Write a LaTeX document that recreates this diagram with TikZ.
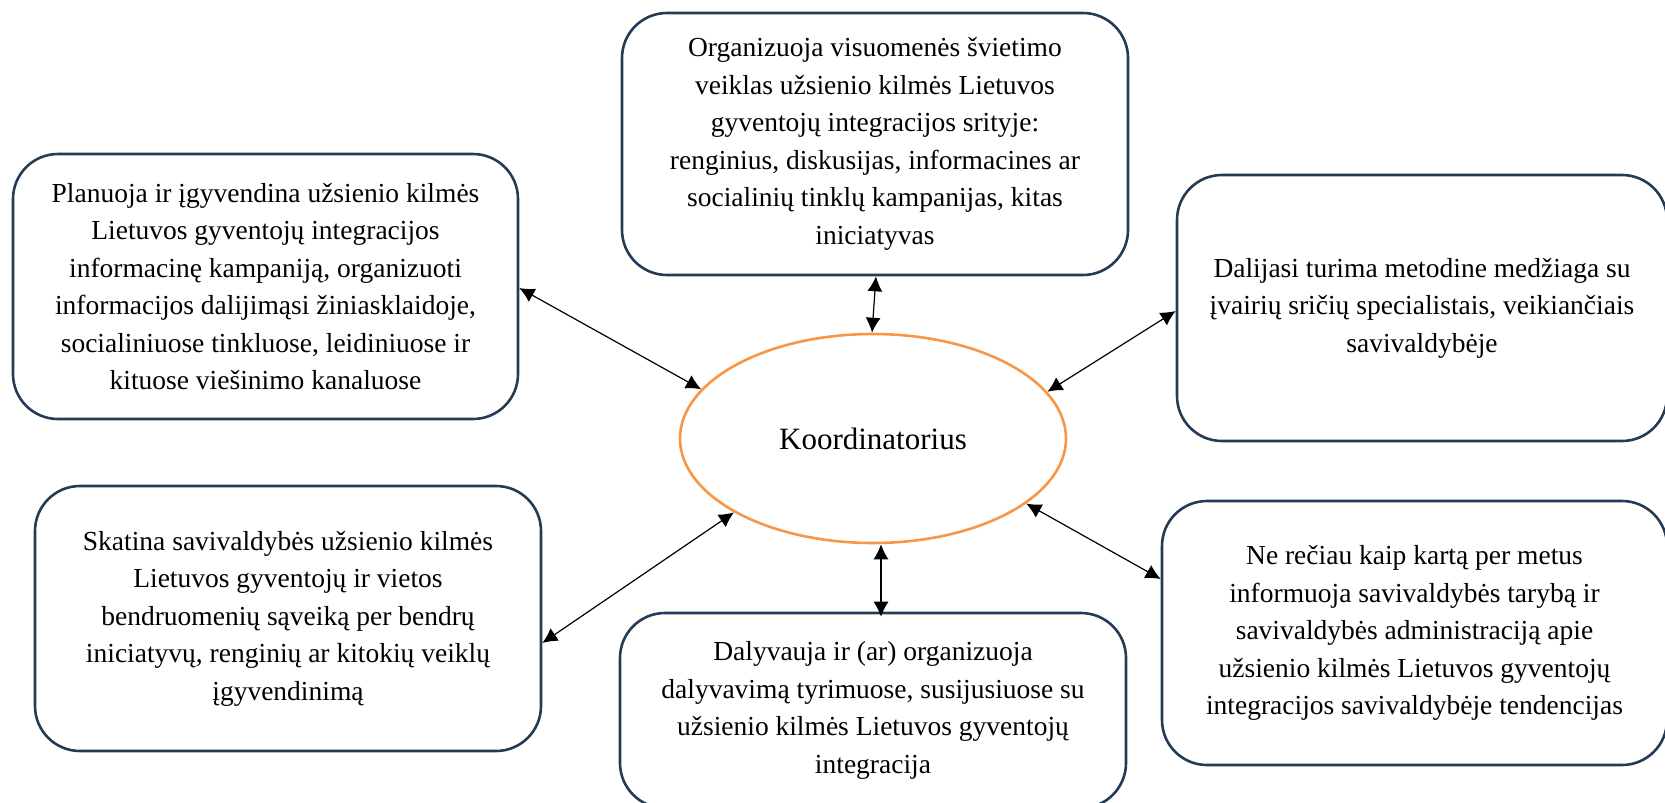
\documentclass[tikz,border=0pt]{standalone}
\usepackage{fontspec}
\setmainfont{Liberation Serif}
\usetikzlibrary{arrows.meta,shapes.geometric}
\definecolor{boxline}{HTML}{243B55}
\definecolor{ellline}{HTML}{F79646}
\begin{document}
\begin{tikzpicture}[x=1pt,y=-1pt,
  infobox/.style={draw=boxline, line width=2.6pt, rounded corners=45pt, align=center,
    font=\fontsize{27.5}{37.5}\selectfont, inner sep=0pt},
  link/.style={line width=1.2pt, {Latex[length=15pt,width=15pt]}-{Latex[length=15pt,width=15pt]}}]
\useasboundingbox (0,0) rectangle (1665,803);

\node[ellipse, draw=ellline, line width=2.6pt, minimum width=386pt, minimum height=209pt, inner sep=0pt,
  font=\fontsize{31}{37}\selectfont] (ell) at (873,438.5) {Koordinatorius};

\node[infobox, minimum width=505pt, minimum height=265pt] (tl) at (265.5,286.5)
 {Planuoja ir įgyvendina užsienio kilmės\\Lietuvos gyventojų integracijos\\informacinę kampaniją, organizuoti\\informacijos dalijimąsi žiniasklaidoje,\\socialiniuose tinkluose, leidiniuose ir\\kituose viešinimo kanaluose};

\node[infobox, minimum width=506pt, minimum height=262pt] (tc) at (875,144)
 {Organizuoja visuomenės švietimo\\veiklas užsienio kilmės Lietuvos\\gyventojų integracijos srityje:\\renginius, diskusijas, informacines ar\\socialinių tinklų kampanijas, kitas\\iniciatyvas};

\node[infobox, minimum width=490pt, minimum height=266pt] (rt) at (1422,308)
 {Dalijasi turima metodine medžiaga su\\įvairių sričių specialistais, veikiančiais\\savivaldybėje};

\node[infobox, minimum width=506pt, minimum height=265pt] (bl) at (288,618.5)
 {Skatina savivaldybės užsienio kilmės\\Lietuvos gyventojų ir vietos\\bendruomenių sąveiką per bendrų\\iniciatyvų, renginių ar kitokių veiklų\\įgyvendinimą};

\node[infobox, minimum width=506pt, minimum height=195pt] (bc) at (873,710.5)
 {Dalyvauja ir (ar) organizuoja\\dalyvavimą tyrimuose, susijusiuose su\\užsienio kilmės Lietuvos gyventojų\\integracija};

\node[infobox, minimum width=505pt, minimum height=264pt] (br) at (1414.5,633)
 {Ne rečiau kaip kartą per metus\\informuoja savivaldybės tarybą ir\\savivaldybės administraciją apie\\užsienio kilmės Lietuvos gyventojų\\integracijos savivaldybėje tendencijas};

\draw[link] ([yshift=-1.5pt]tl.east) -- (ell.164.4);
\draw[link] ([xshift=1pt]tc.south) -- ([xshift=-1pt]ell.north);
\draw[link] ([yshift=-3pt]rt.west) -- (ell.15.7);
\draw[link] ([yshift=-24.5pt]bl.east) -- (ell.208.4);
\draw[link] ([xshift=8pt]ell.south) -- ([xshift=8pt,yshift=-5pt]bc.north);
\draw[link] ([yshift=54pt]br.west) -- (ell.337.2);
\end{tikzpicture}
\end{document}
